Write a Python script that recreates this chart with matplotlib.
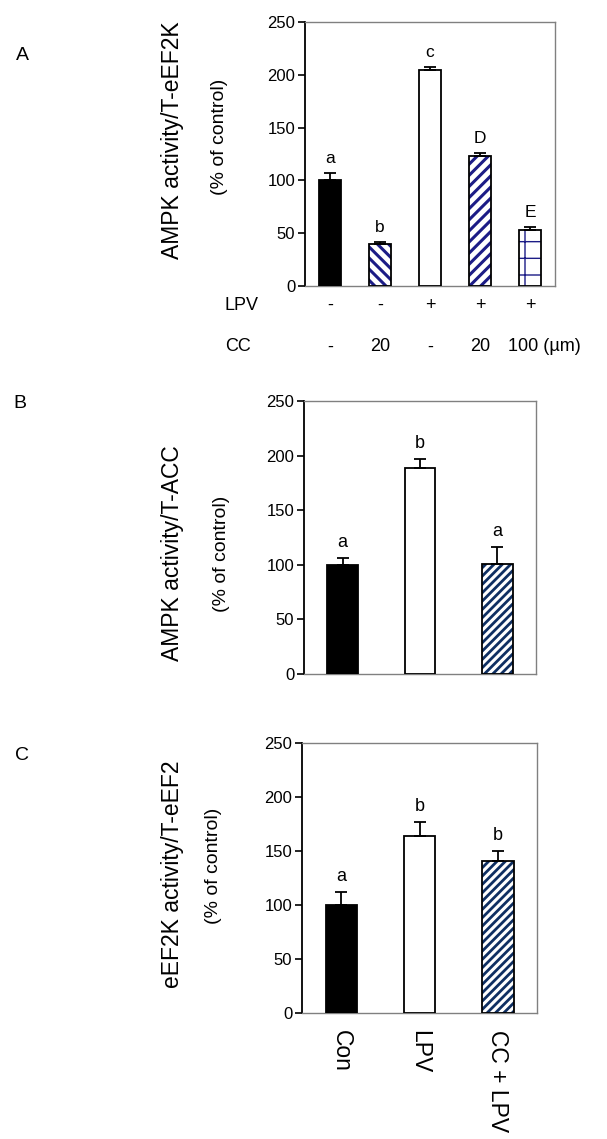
import matplotlib
matplotlib.use('Agg')
import matplotlib.pyplot as plt
import matplotlib.transforms as mtransforms
import numpy as np

plt.rcParams['font.family'] = ['Liberation Sans', 'DejaVu Sans']

# panel A: AMPK activity / T-eEF2K
a_values = [100, 40, 205, 123, 53]
a_errors = [7, 1.5, 2.5, 3, 3]
a_letters = ['a', 'b', 'c', 'D', 'E']
a_lpv = ['-', '-', '+', '+', '+']
a_cc = ['-', '20', '-', '20', '100']

# panel B: AMPK activity / T-ACC
b_values = [100, 189, 101]
b_errors = [6, 8, 15]
b_letters = ['a', 'b', 'a']

# panel C: eEF2K activity / T-eEF2
c_values = [100, 164, 141]
c_errors = [12, 13, 9]
c_letters = ['a', 'b', 'b']
c_groups = ['Con', 'LPV', 'CC + LPV']

yticks = [0, 50, 100, 150, 200, 250]

NAVY_A = '#1c1c86'
NAVY_BC = '#0f2f62'

# (face, hatch, hatch colour, hatch linewidth)
a_styles = [('black', None, None, 0),
            ('white', '\\\\\\', NAVY_A, 2.2),
            ('white', None, None, 0),
            ('white', '///', NAVY_A, 2.2),
            ('white', '+', NAVY_A, 1.0)]
bc_styles = [('black', None, None, 0),
             ('white', None, None, 0),
             ('white', '////', NAVY_BC, 2.0)]

W, H = 607, 1139
fig = plt.figure(figsize=(W / 100, H / 100), dpi=100)


def px_axes(left, top, right, bottom):
    return fig.add_axes([left / W, 1 - bottom / H, (right - left) / W, (bottom - top) / H])


def px_text(x, y, s, **kw):
    fig.text(x / W, 1 - y / H, s, **kw)


def draw_bars(ax, values, errors, letters, styles, width, letter_size):
    x = np.arange(len(values))
    for i, (face, hatch, hcolor, hlw) in enumerate(styles):
        if hatch:
            hb = ax.bar(x[i], values[i], width, color='white', edgecolor=hcolor,
                        hatch=hatch, linewidth=0, zorder=2)
            if hasattr(hb[0], 'set_hatch_linewidth'):
                hb[0].set_hatch_linewidth(hlw)
            face = 'none'
        ax.bar(x[i], values[i], width, facecolor=face, edgecolor='black',
               linewidth=1.3, zorder=3)
    ax.errorbar(x, values, yerr=[np.zeros(len(errors)), errors], fmt='none',
                ecolor='black', elinewidth=1.3, capsize=4.5, capthick=1.3, zorder=4)
    for xi, v, e, t in zip(x, values, errors, letters):
        ax.annotate(t, (xi, v + e), xytext=(0, 5), textcoords='offset points',
                    ha='center', va='bottom', fontsize=letter_size)
    ax.set_xlim(-0.5, len(values) - 0.5)
    ax.set_ylim(0, 250)
    ax.set_yticks(yticks)
    ax.tick_params(axis='y', direction='out', length=5, width=1.2, pad=2, labelsize=12)
    ax.set_xticks([])
    for side in ['top', 'right', 'bottom']:
        ax.spines[side].set_color('#808080')
        ax.spines[side].set_linewidth(1.0)
    ax.spines['left'].set_color('black')
    ax.spines['left'].set_linewidth(1.3)
    return x


# A
axA = px_axes(305, 22, 555, 286)
a_pos = draw_bars(axA, a_values, a_errors, a_letters, a_styles, 0.45, 12.5)
trans = mtransforms.blended_transform_factory(axA.transData, axA.transAxes)
axA.text(-0.32, -0.072, 'LPV', transform=axA.transAxes, ha='left', va='center', fontsize=13)
axA.text(-0.32, -0.231, 'CC', transform=axA.transAxes, ha='left', va='center', fontsize=13)
for i in range(len(a_pos)):
    axA.text(a_pos[i], -0.072, a_lpv[i], transform=trans, ha='center', va='center', fontsize=13)
    if i == len(a_pos) - 1:
        axA.text(a_pos[i] - 0.44, -0.231, a_cc[i] + ' (µm)', transform=trans,
                 ha='left', va='center', fontsize=13)
    else:
        axA.text(a_pos[i], -0.231, a_cc[i], transform=trans, ha='center', va='center', fontsize=13)

# B
axB = px_axes(304, 401, 536, 674)
draw_bars(axB, b_values, b_errors, b_letters, bc_styles, 0.4, 13)

# C
axC = px_axes(302, 743, 537, 1013)
c_pos = draw_bars(axC, c_values, c_errors, c_letters, bc_styles, 0.4, 13)
axC.set_xticks(c_pos)
axC.set_xticklabels(c_groups, rotation=-90, fontsize=16.5)
axC.tick_params(axis='x', length=0, pad=12)

# labels
px_text(22, 56, 'A', fontsize=14, ha='center', va='center')
px_text(20, 404, 'B', fontsize=14, ha='center', va='center')
px_text(22, 755, 'C', fontsize=14, ha='center', va='center')

px_text(173, 140, 'AMPK activity/T-eEF2K', rotation=90, fontsize=16.5, ha='center', va='center')
px_text(219, 137, '(% of control)', rotation=90, fontsize=14, ha='center', va='center')
px_text(172, 553, 'AMPK activity/T-ACC', rotation=90, fontsize=16.5, ha='center', va='center')
px_text(222, 554, '(% of control)', rotation=90, fontsize=14, ha='center', va='center')
px_text(173, 874, 'eEF2K activity/T-eEF2', rotation=90, fontsize=16.5, ha='center', va='center')
px_text(213, 866, '(% of control)', rotation=90, fontsize=14, ha='center', va='center')

fig.savefig('out.png', dpi=100)
